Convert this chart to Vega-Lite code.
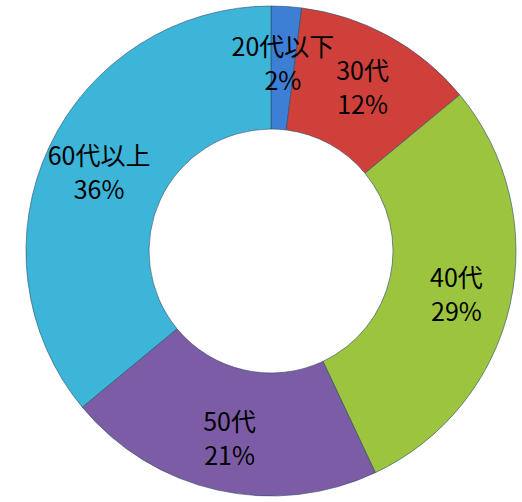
{
  "$schema": "https://vega.github.io/schema/vega-lite/v6.json",
  "width": 500,
  "height": 502,
  "autosize": {"type": "none"},
  "padding": {"left": 21, "top": 0, "right": 0, "bottom": 0},
  "background": "white",
  "data": {
    "values": [
      {"group": "20代以下", "pct": 2, "order": 1, "label": "20代以下\n2%"},
      {"group": "30代", "pct": 12, "order": 2, "label": "30代\n12%"},
      {"group": "40代", "pct": 29, "order": 3, "label": "40代\n29%"},
      {"group": "50代", "pct": 21, "order": 4, "label": "50代\n21%"},
      {"group": "60代以上", "pct": 36, "order": 5, "label": "60代以上\n36%"}
    ]
  },
  "encoding": {
    "theta": {"field": "pct", "type": "quantitative", "stack": true},
    "order": {"field": "order", "type": "quantitative"}
  },
  "layer": [
    {
      "mark": {"type": "arc", "outerRadius": 245, "innerRadius": 122, "stroke": "#2a4a6a", "strokeWidth": 0.6},
      "encoding": {
        "color": {
          "field": "group",
          "type": "nominal",
          "scale": {
            "domain": ["20代以下", "30代", "40代", "50代", "60代以上"],
            "range": ["#3c7fd4", "#cf403b", "#9cc43f", "#7d5ca6", "#3cb5d8"]
          },
          "legend": null
        }
      }
    },
    {
      "mark": {"type": "text", "radius": 190, "dy": -13, "fontSize": 25, "font": "Noto Sans CJK JP", "lineHeight": 34, "lineBreak": "\n", "color": "black", "align": "center", "baseline": "middle"},
      "encoding": {
        "text": {"field": "label", "type": "nominal"}
      }
    }
  ]
}
